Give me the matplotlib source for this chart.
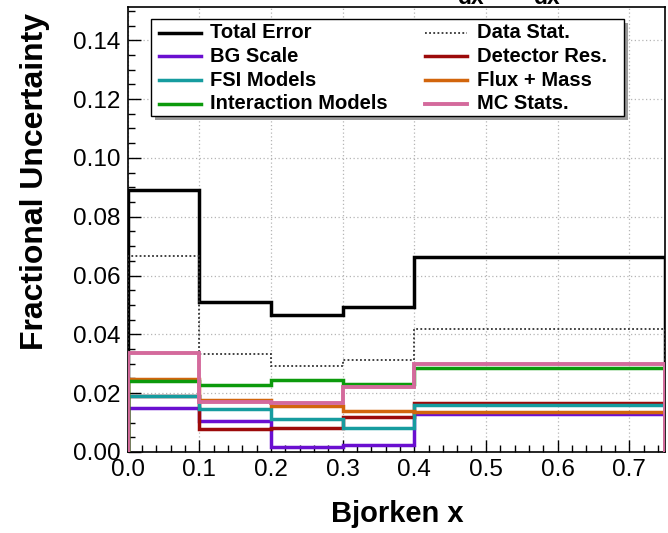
import matplotlib
matplotlib.use("Agg")
import matplotlib.pyplot as plt
from matplotlib.lines import Line2D
from matplotlib.patches import Rectangle
from matplotlib.ticker import MultipleLocator, FormatStrFormatter

plt.rcParams["font.family"] = ["Liberation Sans", "DejaVu Sans"]

# Bjorken-x binning and fractional uncertainty per bin
bin_edges = [0.0, 0.1, 0.2, 0.3, 0.4, 0.75]
total_error = [0.0890, 0.0509, 0.0467, 0.0492, 0.0662]
data_stat = [0.0667, 0.0333, 0.0293, 0.0313, 0.0418]
bg_scale = [0.0149, 0.0107, 0.0016, 0.0023, 0.0130]
detector_res = [0.0190, 0.0077, 0.0082, 0.0120, 0.0167]
fsi_models = [0.0192, 0.0147, 0.0113, 0.0082, 0.0161]
flux_mass = [0.0247, 0.0176, 0.0158, 0.0141, 0.0136]
interaction_models = [0.0243, 0.0228, 0.0245, 0.0232, 0.0287]
mc_stats = [0.0336, 0.0170, 0.0167, 0.0221, 0.0300]

series = [
    ("Total Error", total_error, "black", "-", 2.5),
    ("Data Stat.", data_stat, "#333333", (0, (1.0, 1.3)), 1.3),
    ("BG Scale", bg_scale, "#6a0fd0", "-", 2.5),
    ("Detector Res.", detector_res, "#9c0a0a", "-", 2.5),
    ("FSI Models", fsi_models, "#169c9f", "-", 2.5),
    ("Flux + Mass", flux_mass, "#d2650c", "-", 2.5),
    ("Interaction Models", interaction_models, "#0c9a0c", "-", 2.5),
    ("MC Stats.", mc_stats, "#d46a9c", "-", 2.8),
]

W, H = 668, 533
fig = plt.figure(figsize=(W / 100, H / 100), dpi=100)
fig.patch.set_facecolor("white")


def fx(px):
    return px / W


def fy(py):
    return 1 - py / H


left, right, top, bottom = 127.5, 665.0, 6.7, 452.0
ax = fig.add_axes([fx(left), fy(bottom), fx(right - left), (bottom - top) / H])

for name, vals, color, ls, lw in series:
    ax.stairs(vals, bin_edges, baseline=0, color=color, linestyle=ls,
              linewidth=lw, zorder=3)

ax.set_xlim(0, 0.75)
ax.set_ylim(0, 0.1514)

ax.xaxis.set_major_locator(MultipleLocator(0.1))
ax.xaxis.set_minor_locator(MultipleLocator(0.02))
ax.yaxis.set_major_locator(MultipleLocator(0.02))
ax.yaxis.set_minor_locator(MultipleLocator(0.005))
ax.xaxis.set_major_formatter(FormatStrFormatter("%.1f"))
ax.yaxis.set_major_formatter(FormatStrFormatter("%.2f"))

ax.tick_params(which="both", direction="in", top=False, right=False,
               labelsize=17.5, colors="black", width=1.0)
ax.tick_params(which="major", length=9)
ax.tick_params(which="minor", length=5)
ax.tick_params(axis="x", pad=5)
ax.tick_params(axis="y", pad=5)

ax.grid(True, which="major", color="#b5b5b5", linestyle=(0, (1, 2)),
        linewidth=0.9, zorder=0)
for s in ax.spines.values():
    s.set_linewidth(1.2)
    s.set_color("black")

# axis titles
fig.text(fx(35), fy(13), "Fractional Uncertainty", rotation=90,
         ha="center", va="top", fontsize=23, fontweight="bold")
fig.text(fx(397), fy(514), "Bjorken x", ha="center", va="center",
         fontsize=21, fontweight="bold")

# title fragment above the frame
fig.text(fx(470), fy(4), "dx", ha="center", va="baseline",
         fontsize=16.5, fontweight="bold")
fig.text(fx(546.5), fy(4), "dx", ha="center", va="baseline",
         fontsize=16.5, fontweight="bold")

# legend box with shadow
lx0, ly0, lx1, ly1 = 150.5, 19.0, 624.0, 116.0
fig.patches.append(Rectangle((fx(lx0 + 4), fy(ly1 + 4)), fx(lx1 - lx0),
                             (ly1 - ly0) / H, transform=fig.transFigure,
                             facecolor="#9a9a9a", edgecolor="none", zorder=5))
fig.patches.append(Rectangle((fx(lx0), fy(ly1)), fx(lx1 - lx0),
                             (ly1 - ly0) / H, transform=fig.transFigure,
                             facecolor="white", edgecolor="black",
                             linewidth=1.0, zorder=6))

legend_layout = [
    ("Total Error", 0, 0), ("Data Stat.", 1, 0),
    ("BG Scale", 0, 1), ("Detector Res.", 1, 1),
    ("FSI Models", 0, 2), ("Flux + Mass", 1, 2),
    ("Interaction Models", 0, 3), ("MC Stats.", 1, 3),
]
style = {name: (color, ls, lw) for name, _, color, ls, lw in series}
col_line = [(159.3, 201.4), (425.0, 467.4)]
col_text = [209.5, 476.7]
row_y = [32.5, 56.2, 80.0, 103.7]
for name, col, row in legend_layout:
    color, ls, lw = style[name]
    x0, x1 = col_line[col]
    y = row_y[row]
    fig.add_artist(Line2D([fx(x0), fx(x1)], [fy(y), fy(y)],
                          transform=fig.transFigure, color=color,
                          linestyle=ls, linewidth=lw, zorder=7))
    fig.text(fx(col_text[col]), fy(y), name, ha="left", va="center",
             fontsize=14.5, fontweight="bold", zorder=7)

fig.savefig("out.png", dpi=100)
